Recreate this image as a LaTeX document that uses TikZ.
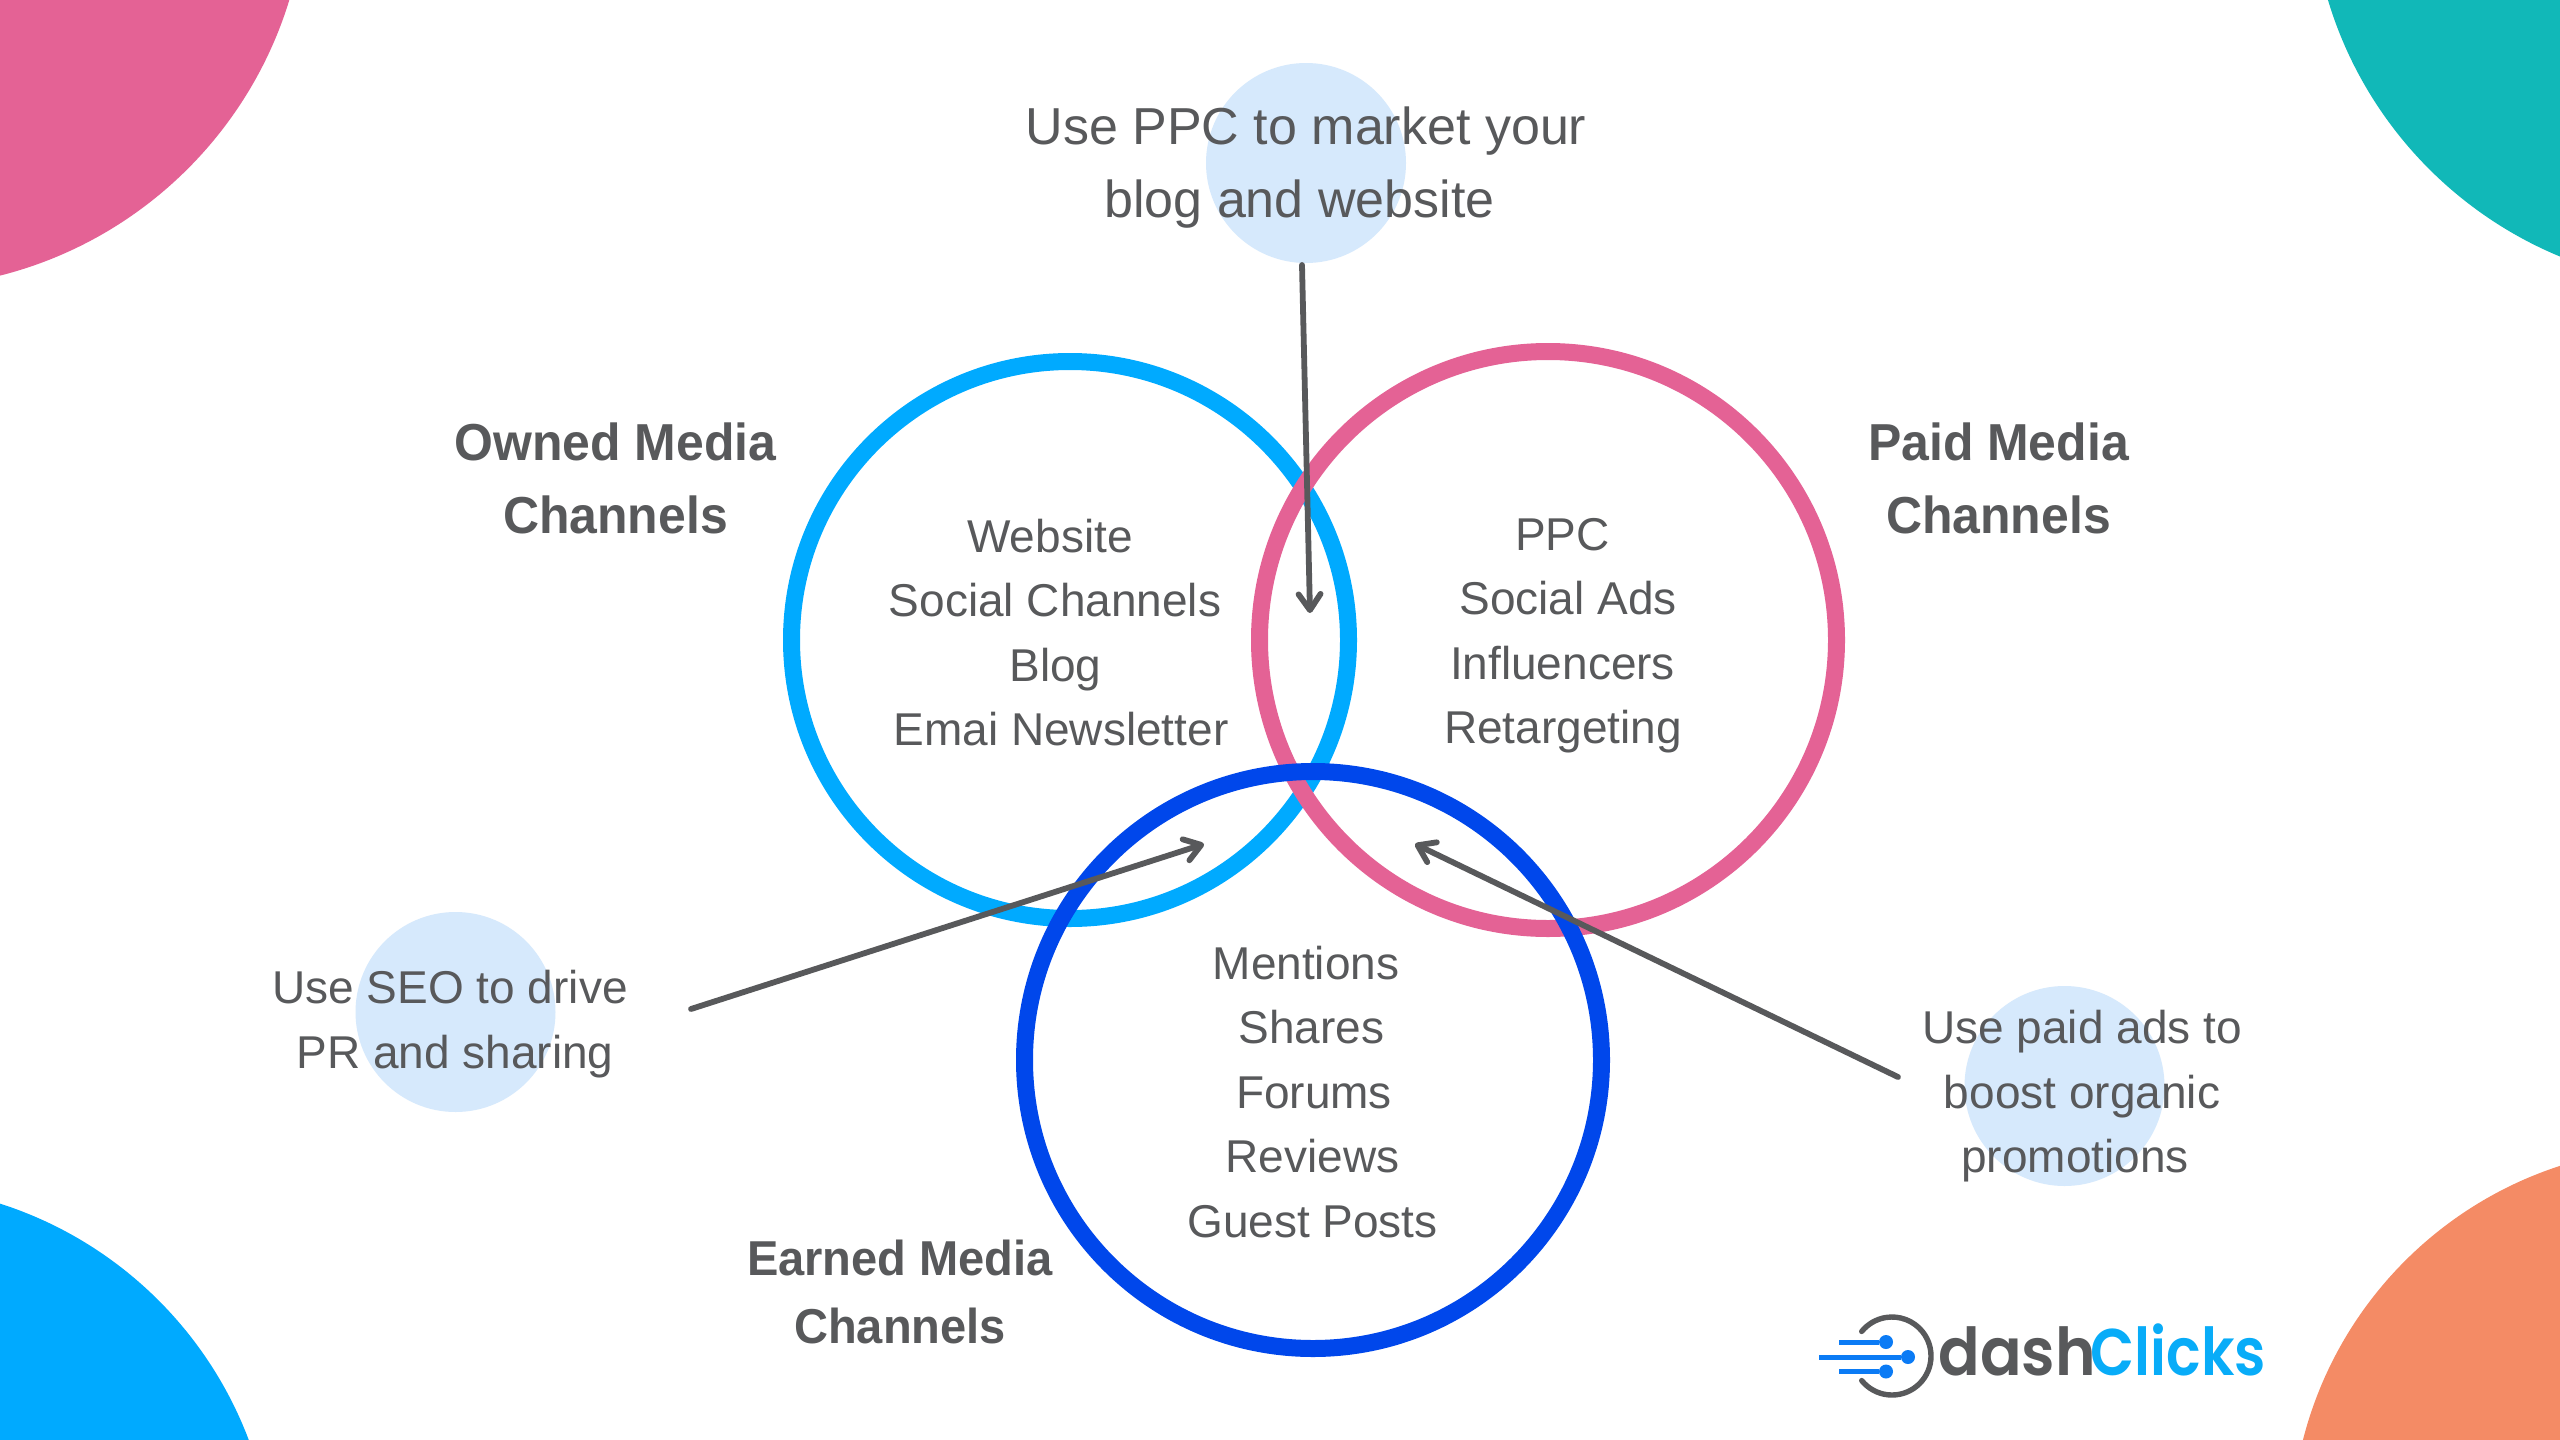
\documentclass[tikz,border=0pt]{standalone}
\usepackage{fontspec}
\usetikzlibrary{arrows.meta}
\setmainfont{Liberation Sans}[BoldFeatures={FakeStretch=0.96}]
\newfontfamily\logofontA{Poppins}[UprightFont=*-SemiBold,FakeStretch=0.93]
\newfontfamily\logofontB{Poppins}[UprightFont=*-SemiBold,FakeStretch=0.87]
\definecolor{inkgray}{HTML}{58595B}
\definecolor{rosepink}{HTML}{E46295}
\definecolor{tealc}{HTML}{11B8B8}
\definecolor{skyc}{HTML}{00AAFF}
\definecolor{orangec}{HTML}{F48B65}
\definecolor{royalc}{HTML}{0047EB}
\definecolor{halo}{HTML}{D6E9FC}
\definecolor{logoblue}{HTML}{0B7BF5}
\definecolor{logosky}{HTML}{08ACF8}
\tikzset{
  ring/.style={circle,draw,line width=8.5pt,inner sep=0pt,fill=none},
  halodisc/.style={circle,fill=halo,inner sep=0pt,minimum size=100pt},
  lead/.style={draw=inkgray,line width=2.9pt,line cap=round,-{Straight Barb[round,length=8pt,width=11pt,line width=2.9pt]}},
  note/.style={anchor=base,text=inkgray,inner sep=0pt,font=\fontsize{26}{30}\selectfont},
  item/.style={anchor=base,text=inkgray,inner sep=0pt,font=\fontsize{23}{27}\selectfont},
  head/.style={anchor=base,text=inkgray,inner sep=0pt,font=\fontsize{26}{30}\selectfont\bfseries},
  headsm/.style={anchor=base,text=inkgray,inner sep=0pt,font=\fontsize{24.5}{29}\selectfont\bfseries},
  logotextA/.style={anchor=base west,inner sep=0pt,font=\fontsize{33}{36}\logofontA},
  logotextB/.style={anchor=base west,inner sep=0pt,font=\fontsize{33}{36}\logofontB},
  logoline/.style={draw=logoblue,line width=2.5pt},
  logodot/.style={circle,fill=logoblue,inner sep=0pt,minimum size=7pt}
}
\begin{document}
\begin{tikzpicture}[x=0.5pt,y=-0.5pt]
\useasboundingbox (0,0) rectangle (2560,1440);
\fill[white] (0,0) rectangle (2560,1440);
% corner discs
\begin{scope}
\clip (0,0) rectangle (2560,1440);
\fill[rosepink] (-100,-119) circle[radius=407];
\fill[tealc] (2714,-116) circle[radius=403];
\fill[skyc] (-120,1579) circle[radius=394];
\fill[orangec] (2680,1536) circle[radius=389];
\end{scope}
% halo discs
\node[halodisc] (haloTop) at (1306,163) {};
\node[halodisc] (haloLeft) at (455.5,1012) {};
\node[halodisc] (haloRight) at (2064.5,1086) {};
% venn rings
\node[ring,draw=skyc,minimum size=278.5pt] (owned) at (1070,640) {};
\node[ring,draw=rosepink,minimum size=288.5pt] (paid) at (1548,640) {};
\node[ring,draw=royalc,minimum size=288.5pt] (earned) at (1313,1060) {};
% connectors
\coordinate (topStart) at (1302,265);
\coordinate (topEnd) at (1310,613);
\coordinate (leftStart) at (691,1009);
\coordinate (leftEnd) at (1204,844);
\coordinate (rightStart) at (1898,1077);
\coordinate (rightEnd) at (1415,844);
\draw[lead] (topStart) -- (topEnd);
\draw[lead] (leftStart) -- (leftEnd);
\draw[lead] (rightStart) -- (rightEnd);
% notes
\node[note] (n1a) at (1306,144) {Use PPC to market your};
\node[note] (n1b) at (1299.5,217) {blog and website};
\node[item] (n2a) at (450,1003) {Use SEO to drive};
\node[item] (n2b) at (455,1068) {PR and sharing};
\node[item] (n3a) at (2082,1043) {Use paid ads to};
\node[item] (n3b) at (2082,1108) {boost organic};
\node[item] (n3c) at (2075,1172.5) {promotions};
% headings
\node[head] (h1a) at (615.5,460.5) {Owned Media};
\node[head] (h1b) at (615.5,533.5) {Channels};
\node[head] (h2a) at (1998.5,460.5) {Paid Media};
\node[head] (h2b) at (1998.5,533.5) {Channels};
\node[headsm] (h3a) at (900,1275.5) {Earned Media};
\node[headsm] (h3b) at (900,1343.5) {Channels};
% lists
\node[item] (o1) at (1050,552) {Website};
\node[item] (o2) at (1055,616.5) {Social Channels};
\node[item] (o3) at (1055.5,681) {Blog};
\node[item] (o4) at (1061,745.5) {Emai Newsletter};
\node[item] (p1) at (1562.5,550) {PPC};
\node[item] (p2) at (1568,614) {Social Ads};
\node[item] (p3) at (1562.5,679) {Influencers};
\node[item] (p4) at (1563,743) {Retargeting};
\node[item] (e1) at (1306,979) {Mentions};
\node[item] (e2) at (1311.5,1043) {Shares};
\node[item] (e3) at (1314,1108) {Forums};
\node[item] (e4) at (1312.5,1172) {Reviews};
\node[item] (e5) at (1312.5,1237) {Guest Posts};
% logo
\draw[inkgray,line width=2.7pt,line cap=round] (1892,1356) ++(141:39) arc[start angle=141,end angle=-141,radius=39];
\node[logodot] (d1) at (1886,1342) {};
\node[logodot] (d2) at (1908,1357) {};
\node[logodot] (d3) at (1886,1371.5) {};
\coordinate (l1) at (1839,1342);
\coordinate (l2) at (1819,1357);
\coordinate (l3) at (1839,1371.5);
\draw[logoline] (l1) -- (d1);
\draw[logoline] (l2) -- (d2);
\draw[logoline] (l3) -- (d3);
\node[logotextA,text=inkgray] (logoA) at (1938,1375) {dash};
\node[logotextB,text=logosky] (logoB) at (2090,1375) {Clicks};
\end{tikzpicture}
\end{document}
